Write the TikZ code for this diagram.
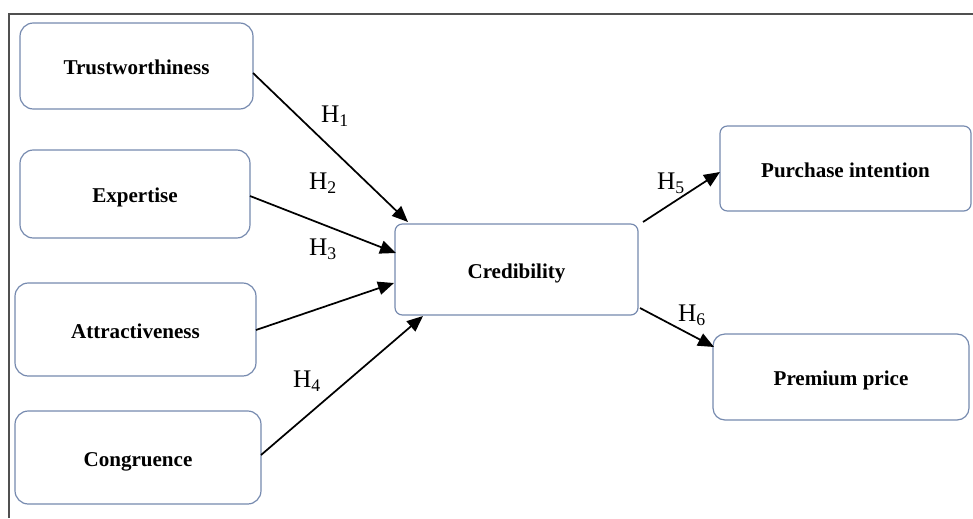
\documentclass[tikz,border=0pt]{standalone}
\usepackage{fontspec}
\setmainfont{Liberation Serif}
\usetikzlibrary{arrows.meta,calc}
\definecolor{boxline}{RGB}{118,138,175}
\definecolor{frameline}{RGB}{80,80,80}
\begin{document}
\begin{tikzpicture}[x=0.75pt,y=-0.75pt,
  cbox/.style={draw=boxline, line width=0.9pt, fill=white, inner sep=0pt, outer sep=0pt,
    font=\fontsize{15.8}{18}\selectfont\bfseries, align=center, text height=13pt, text depth=0pt},
  bigr/.style={cbox, rounded corners=10pt},
  smallr/.style={cbox, rounded corners=5.5pt},
  conn/.style={-{Triangle[length=12pt,width=10pt]}, line width=1.3pt, black},
  hlab/.style={font=\fontsize{19}{22}\selectfont, inner sep=0pt}]
\useasboundingbox (0,0) rectangle (973,518);
\draw[frameline, line width=1.5pt] (9,518) -- (9,14) -- (973,14);

\node[bigr, minimum width=174.75pt, minimum height=64.5pt] (T) at (136.5,66) {Trustworthiness};
\node[bigr, minimum width=172.5pt, minimum height=66pt] (E) at (135,194) {Expertise};
\node[bigr, minimum width=180.75pt, minimum height=69.75pt] (A) at (135.5,329.5) {Attractiveness};
\node[bigr, minimum width=184.5pt, minimum height=69.75pt] (Co) at (138,457.5) {Congruence};
\node[smallr, minimum width=182.25pt, minimum height=68.25pt] (Cr) at (516.5,269.5) {Credibility};
\node[smallr, minimum width=188.25pt, minimum height=63.75pt] (P) at (845.5,168.5) {Purchase intention};
\node[cbox, rounded corners=9pt, minimum width=192pt, minimum height=64.5pt] (Pr) at (841,377) {Premium price};

\draw[conn] ($(T.east)+(0,7)$) -- ($(Cr.north west)+(13,-2)$);
\draw[conn] ($(E.east)+(0,2)$) -- ($(Cr.west)+(1,-16.5)$);
\draw[conn] ($(A.east)+(0,0.5)$) -- ($(Cr.west)+(-1,13.5)$);
\draw[conn] ($(Co.east)+(0,-2.5)$) -- ($(Cr.south west)+(28,1)$);
\draw[conn] ($(Cr.north east)+(5,-2)$) -- ($(P.west)+(0,3.5)$);
\draw[conn] ($(Cr.south east)+(2,-7)$) -- ($(Pr.north west)+(1,13)$);

\node[hlab] (h1) at (335,116) {H\textsubscript{1}};
\node[hlab] (h2) at (323,183) {H\textsubscript{2}};
\node[hlab] (h3) at (323,249) {H\textsubscript{3}};
\node[hlab] (h4) at (307,381) {H\textsubscript{4}};
\node[hlab] (h5) at (671,183) {H\textsubscript{5}};
\node[hlab] (h6) at (692,315) {H\textsubscript{6}};
\end{tikzpicture}
\end{document}
